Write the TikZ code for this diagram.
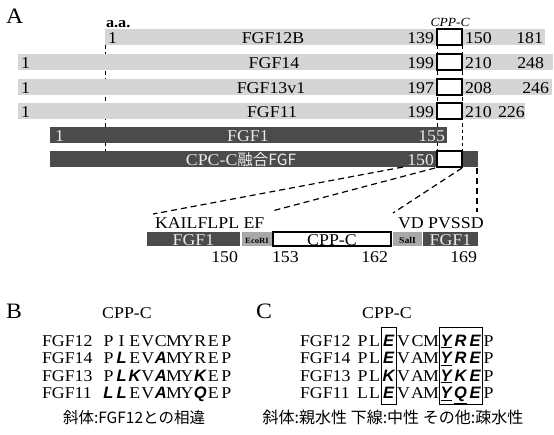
\documentclass[tikz,border=0pt]{standalone}
\usepackage{fontspec}
\setmainfont[FakeStretch=1.08]{Liberation Serif}
\newfontfamily\jp{Noto Sans CJK JP}
\newfontfamily\hv{Liberation Sans}
\newcommand\bi[1]{{\hv\bfseries\itshape #1}}
\definecolor{lg}{HTML}{D5D5D5}
\definecolor{dg}{HTML}{4B4B4B}
\definecolor{mg}{HTML}{A8A8A8}
\definecolor{wt}{HTML}{EAEAEA}
\begin{document}
\begin{tikzpicture}[x=1pt,y=-1pt,
  bar/.style={inner sep=0, outer sep=0, minimum height=16pt, anchor=north west},
  lbar/.style={bar, fill=lg},
  dbar/.style={bar, fill=dg},
  cbox/.style={bar, draw=black, line width=1.2pt, fill=white, minimum width=25pt},
  t/.style={inner sep=0, outer sep=0, font=\fontsize{16.5}{16.5}\selectfont},
  tw/.style={t, text=wt},
  sm/.style={inner sep=0, outer sep=0, font=\fontsize{8}{8}\selectfont\bfseries},
  vd/.style={dash pattern=on 3.5pt off 3pt, line width=1pt},
  dd/.style={dash pattern=on 6pt off 4pt, line width=1.2pt},
  ubox/.style={draw=black, line width=1.1pt}
]
\useasboundingbox (0,0) rectangle (554,434);
% vertical dashed guides
\coordinate (v1t) at (105,45); \coordinate (v1b) at (105,151);
\coordinate (v2t) at (437,45); \coordinate (v2b) at (437,151);
\coordinate (v3t) at (462,45); \coordinate (v3b) at (462,151);
\draw[vd] (v1t) -- (v1b);
\draw[vd] (v2t) -- (v2b);
\draw[vd] (v3t) -- (v3b);
% bars
\node[lbar, minimum width=440pt] (r1) at (105,29) {};
\node[lbar, minimum width=535pt] (r2) at (18,54) {};
\node[lbar, minimum width=534pt] (r3) at (18,79) {};
\node[lbar, minimum width=507pt] (r4) at (18,103) {};
\node[dbar, minimum width=397pt] (r5) at (50,127) {};
\node[dbar, minimum width=428pt] (r6) at (50,151) {};
\node[cbox] (k1) at (437,29) {};
\node[cbox] (k2) at (437,54) {};
\node[cbox] (k3) at (437,79) {};
\node[cbox] (k4) at (437,103) {};
\node[cbox] (k6) at (437,151) {};
% labels
\node[t, anchor=base west] (A) at (6,23) {\fontsize{22}{22}\selectfont A};
\node[t, anchor=base west] (aa) at (106,27) {\fontsize{15}{15}\selectfont\bfseries a.a.};
\node[t, anchor=base] (cppc) at (450,26) {\fontsize{12.5}{12.5}\selectfont\itshape CPP-C};
% row 1
\node[t, anchor=base west] (r1a) at (108,43) {1};
\node[t, anchor=base] (r1n) at (273,43) {FGF12B};
\node[t, anchor=base east] (r1b) at (434,43) {139};
\node[t, anchor=base west] (r1c) at (465,43) {150};
\node[t, anchor=base east] (r1d) at (543,43) {181};
% row 2
\node[t, anchor=base west] (r2a) at (21,68) {1};
\node[t, anchor=base] (r2n) at (274,68) {FGF14};
\node[t, anchor=base east] (r2b) at (434,68) {199};
\node[t, anchor=base west] (r2c) at (465,68) {210};
\node[t, anchor=base east] (r2d) at (544,68) {248};
% row 3
\node[t, anchor=base west] (r3a) at (21,93) {1};
\node[t, anchor=base] (r3n) at (271,93) {FGF13v1};
\node[t, anchor=base east] (r3b) at (434,93) {197};
\node[t, anchor=base west] (r3c) at (465,93) {208};
\node[t, anchor=base east] (r3d) at (549,93) {246};
% row 4
\node[t, anchor=base west] (r4a) at (21,117) {1};
\node[t, anchor=base] (r4n) at (272,117) {FGF11};
\node[t, anchor=base east] (r4b) at (434,117) {199};
\node[t, anchor=base west] (r4c) at (465,117) {210};
\node[t, anchor=base west] (r4d) at (498,117) {226};
% row 5
\node[tw, anchor=base west] (r5a) at (55,141) {1};
\node[tw, anchor=base] (r5n) at (248,141) {FGF1};
\node[tw, anchor=base east] (r5b) at (445,141) {155};
% row 6
\node[tw, anchor=base] (r6n) at (241,165) {CPC-C{\jp\fontsize{15.5}{15.5}\selectfont 融合FGF}};
\node[tw, anchor=base east] (r6b) at (434,165) {150};
% bottom construct
\node[dbar, minimum width=93pt, minimum height=14pt] (s1) at (147,232) {};
\node[bar, fill=mg, minimum width=30pt, minimum height=14pt] (s2) at (242,232) {};
\node[bar, draw=black, line width=1.1pt, fill=white, minimum width=118pt, minimum height=14pt] (s3) at (273,232) {};
\node[bar, fill=mg, minimum width=29pt, minimum height=14pt] (s4) at (393,232) {};
\node[dbar, minimum width=55pt, minimum height=14pt] (s5) at (423,232) {};
\node[tw, anchor=base] (s1t) at (193.5,245) {FGF1};
\node[sm, anchor=base] (s2t) at (257,243) {EcoRI};
\node[t, anchor=base] (s3t) at (332,245) {CPP-C};
\node[sm, anchor=base] (s4t) at (407.5,243.5) {\fontsize{9}{9}\selectfont SalI};
\node[tw, anchor=base] (s5t) at (450.5,245) {FGF1};
\node[t, anchor=base west] (q1) at (155,228) {KAILFLPL EF};
\node[t, anchor=base west] (q2) at (398,228) {VD PVSSD};
\node[t, anchor=base east] (n1) at (238,262) {150};
\node[t, anchor=base west] (n2) at (272,262) {153};
\node[t, anchor=base east] (n3) at (388,262) {162};
\node[t, anchor=base east] (n4) at (477,262) {169};
% zoom lines
\coordinate (z1a) at (403,167); \coordinate (z1b) at (153,214);
\coordinate (z2a) at (435,168); \coordinate (z2b) at (272,211);
\coordinate (z3a) at (462,168); \coordinate (z3b) at (393,213);
\coordinate (z4a) at (477,168); \coordinate (z4b) at (477,212);
\draw[dd] (z1a) -- (z1b);
\draw[dd] (z2a) -- (z2b);
\draw[dd] (z3a) -- (z3b);
\draw[dd] (z4a) -- (z4b);
% panel B
\node[t, anchor=base west] (B) at (6,318) {\fontsize{22}{22}\selectfont B};
\node[t, anchor=base] (Bh) at (127,318) {CPP-C};
\foreach \nm/\yy in {FGF12/346, FGF14/363.5, FGF13/381, FGF11/398.5}
  \node[t, anchor=base west] (bl-\nm) at (42,\yy) {\nm};
\foreach \s [count=\i] in {P,I,E,V,C,M,Y,R,E,P}
  \node[t, anchor=base] (ba-\i) at ({108.5+13.1*(\i-1)},346) {\s};
\foreach \s [count=\i] in {P,{\bi L},E,V,{\bi A},M,Y,R,E,P}
  \node[t, anchor=base] (bb-\i) at ({108.5+13.1*(\i-1)},363.5) {\s};
\foreach \s [count=\i] in {P,{\bi L},{\bi K},V,{\bi A},M,Y,{\bi K},E,P}
  \node[t, anchor=base] (bc-\i) at ({108.5+13.1*(\i-1)},381) {\s};
\foreach \s [count=\i] in {{\bi L},{\bi L},E,V,{\bi A},M,Y,{\bi Q},E,P}
  \node[t, anchor=base] (bd-\i) at ({108.5+13.1*(\i-1)},398.5) {\s};
\node[t, anchor=base] (Bc) at (134,423) {\jp\fontsize{15.5}{15.5}\selectfont 斜体:FGF12との相違};
% panel C
\node[t, anchor=base west] (C) at (256,318) {\fontsize{22}{22}\selectfont C};
\node[t, anchor=base] (Ch) at (387,318) {CPP-C};
\foreach \nm/\yy in {FGF12/346, FGF14/363.5, FGF13/381, FGF11/398.5}
  \node[t, anchor=base west] (cl-\nm) at (300,\yy) {\nm};
\node[ubox, minimum width=15pt, minimum height=77pt, anchor=north west, inner sep=0] (cb1) at (381,327) {};
\node[ubox, minimum width=43pt, minimum height=77pt, anchor=north west, inner sep=0] (cb2) at (439,327) {};
\foreach \s [count=\i] in {P,L,{\bi E},V,C,M,{\underline{\bi Y}},{\bi R},{\bi E},P}
  \node[t, anchor=base] (ca-\i) at ({\ifcase\i\or 362.5\or 374.5\or 388.5\or 403.5\or 417.5\or 431\or 446\or 460.5\or 475\or 488.5\fi},346) {\s};
\foreach \s [count=\i] in {P,L,{\bi E},V,A,M,{\underline{\bi Y}},{\bi R},{\bi E},P}
  \node[t, anchor=base] (cb-\i) at ({\ifcase\i\or 362.5\or 374.5\or 388.5\or 403.5\or 417.5\or 431\or 446\or 460.5\or 475\or 488.5\fi},363.5) {\s};
\foreach \s [count=\i] in {P,L,{\bi K},V,A,M,{\underline{\bi Y}},{\bi K},{\bi E},P}
  \node[t, anchor=base] (cc-\i) at ({\ifcase\i\or 362.5\or 374.5\or 388.5\or 403.5\or 417.5\or 431\or 446\or 460.5\or 475\or 488.5\fi},381) {\s};
\foreach \s [count=\i] in {L,L,{\bi E},V,A,M,{\underline{\bi Y}},{\underline{\bi Q}},{\bi E},P}
  \node[t, anchor=base] (cd-\i) at ({\ifcase\i\or 362.5\or 374.5\or 388.5\or 403.5\or 417.5\or 431\or 446\or 460.5\or 475\or 488.5\fi},398.5) {\s};
\node[t, anchor=base] (Cc) at (393,423) {\jp\fontsize{16}{16}\selectfont 斜体:親水性 下線:中性 その他:疎水性};
\end{tikzpicture}
\end{document}
